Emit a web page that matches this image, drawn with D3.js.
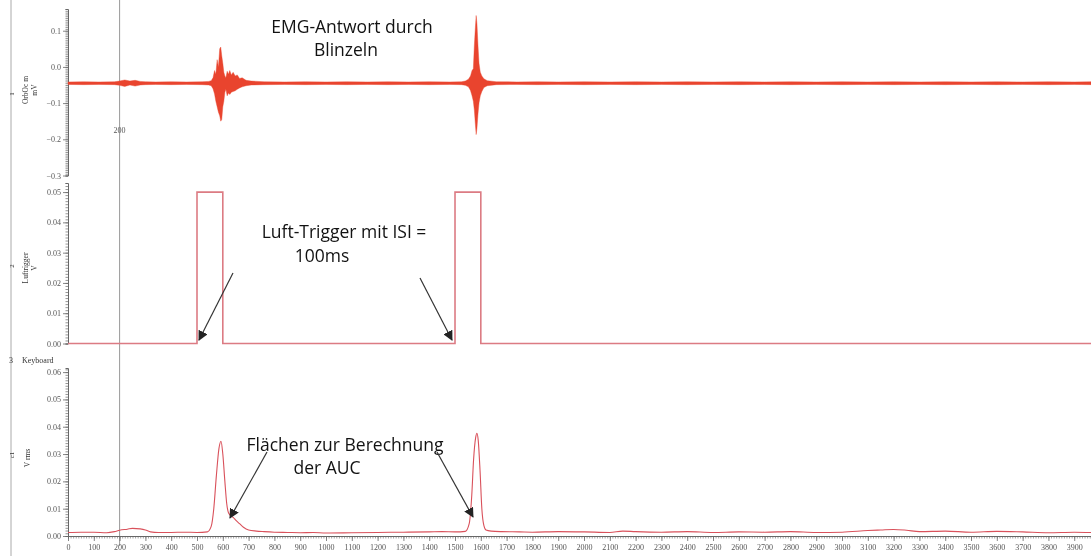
<!DOCTYPE html>
<html>
<head>
<meta charset="utf-8">
<script src="https://cdn.jsdelivr.net/npm/d3@7"></script>
<style>
  html, body { margin: 0; padding: 0; background: #fff; }
  svg { display: block; opacity: 0.995; will-change: opacity; }
</style>
</head>
<body>
<svg id="chart" width="1091" height="556"></svg>
<script>
// ---- Channel 1: EMG envelope (ms, upper and lower edge of the trace, mV)
const emgTime = [0, 60, 120, 180, 200, 220, 240, 260, 280, 300, 340, 400, 460, 520, 545,
  555, 562, 568, 573, 578, 583, 588, 592, 596, 600, 604, 608, 612, 617, 622, 627, 633, 640, 648, 656, 665, 675, 690, 710,
  760, 840, 920, 1000, 1080, 1160, 1240, 1320, 1400, 1480, 1525,
  1540, 1552, 1560, 1566, 1571, 1575, 1579, 1582, 1585, 1589, 1593, 1598, 1604, 1612, 1625,
  1660, 1740, 1820, 1900, 2000, 2100, 2200, 2300, 2400, 2500, 2600, 2700, 2800, 2900, 3000, 3100, 3200, 3300, 3400, 3500, 3600, 3700, 3800, 3900, 3965];
const emgHigh = [-0.0415, -0.041, -0.0415, -0.041, -0.039, -0.036, -0.039, -0.037, -0.040, -0.041, -0.0415, -0.041, -0.0415, -0.041, -0.040,
  -0.038, -0.030, -0.010, -0.020, 0.020, 0.000, 0.050, 0.055, 0.030, 0.010, -0.015, -0.025, -0.030, -0.012, -0.020, -0.010, -0.022, -0.015, -0.025, -0.022, -0.032, -0.030, -0.037, -0.039,
  -0.041, -0.0415, -0.041, -0.0415, -0.041, -0.0415, -0.041, -0.0415, -0.041, -0.0415, -0.041,
  -0.039, -0.034, -0.025, -0.010, -0.005, 0.060, 0.110, 0.142, 0.120, 0.060, 0.010, -0.015, -0.025, -0.033, -0.038,
  -0.041, -0.0415, -0.041, -0.0415, -0.041, -0.0415, -0.041, -0.0415, -0.041, -0.0415, -0.041, -0.0415, -0.041, -0.0415, -0.041, -0.0415, -0.041, -0.0415, -0.041, -0.0415, -0.041, -0.0415, -0.041, -0.0415, -0.041];
const emgLow  = [-0.0485, -0.049, -0.0485, -0.049, -0.051, -0.054, -0.050, -0.053, -0.050, -0.049, -0.0485, -0.049, -0.0485, -0.049, -0.050,
  -0.052, -0.060, -0.075, -0.095, -0.110, -0.125, -0.135, -0.150, -0.145, -0.110, -0.095, -0.070, -0.062, -0.080, -0.072, -0.076, -0.070, -0.068, -0.066, -0.062, -0.058, -0.055, -0.052, -0.050,
  -0.049, -0.0485, -0.049, -0.0485, -0.049, -0.0485, -0.049, -0.0485, -0.049, -0.0485, -0.049,
  -0.051, -0.055, -0.065, -0.080, -0.095, -0.120, -0.160, -0.187, -0.170, -0.130, -0.100, -0.080, -0.068, -0.057, -0.052,
  -0.049, -0.0485, -0.049, -0.0485, -0.049, -0.0485, -0.049, -0.0485, -0.049, -0.0485, -0.049, -0.0485, -0.049, -0.0485, -0.049, -0.0485, -0.049, -0.0485, -0.049, -0.0485, -0.049, -0.0485, -0.049, -0.0485, -0.049];

// ---- Channel 2: air-puff trigger (ms, V)
const trigTime  = [0, 500, 500, 600, 600, 1500, 1500, 1600, 1600, 3965];
const trigValue = [0, 0, 0.05, 0.05, 0, 0, 0.05, 0.05, 0, 0];

// ---- Channel 3: RMS of the EMG (ms, V)
const rmsTime  = [0, 50, 100, 150, 180, 200, 230, 250, 280, 300, 320, 350, 400, 450, 500, 540, 555, 565, 575, 585, 593, 600, 608, 615, 622, 630, 640, 650, 665, 680, 700, 730, 760, 800, 850, 900, 950, 1000, 1100, 1200, 1300, 1400, 1450, 1500, 1540, 1555, 1565, 1572, 1580, 1585, 1590, 1597, 1604, 1612, 1620, 1640, 1680, 1750, 1800, 1900, 2000, 2100, 2150, 2200, 2300, 2400, 2500, 2600, 2700, 2800, 2900, 3000, 3100, 3150, 3200, 3250, 3300, 3400, 3500, 3600, 3700, 3800, 3900, 3965];
const rmsValue = [0.0013, 0.0014, 0.0014, 0.0012, 0.0016, 0.0021, 0.0025, 0.0028, 0.0026, 0.0022, 0.0015, 0.0013, 0.0013, 0.0014, 0.0013, 0.0015, 0.0035, 0.010, 0.022, 0.032, 0.0347, 0.030, 0.020, 0.012, 0.0085, 0.0075, 0.0068, 0.0058, 0.0045, 0.0032, 0.0022, 0.0018, 0.0016, 0.0014, 0.0013, 0.0012, 0.0013, 0.0011, 0.0012, 0.0013, 0.0014, 0.0015, 0.0016, 0.0015, 0.0017, 0.0045, 0.015, 0.028, 0.036, 0.0376, 0.035, 0.024, 0.010, 0.0038, 0.0022, 0.0018, 0.0016, 0.0015, 0.0014, 0.0016, 0.0015, 0.0013, 0.0018, 0.0016, 0.0014, 0.0016, 0.0013, 0.0015, 0.0014, 0.0016, 0.0013, 0.0014, 0.0020, 0.0022, 0.0024, 0.0021, 0.0016, 0.0018, 0.0014, 0.0017, 0.0015, 0.0012, 0.0014, 0.0013];

// ---- Tick labels
const xTicks     = d3.range(0, 4000, 100);
const emgTicks   = [0.1, 0.0, -0.1, -0.2, -0.3];
const trigTicks  = [0.00, 0.01, 0.02, 0.03, 0.04, 0.05];
const rmsTicks   = [0.00, 0.01, 0.02, 0.03, 0.04, 0.05, 0.06];

const svg = d3.select("#chart");
const W = 1091, H = 556;

const x = d3.scaleLinear().domain([0, 3965]).range([68, 1091]);
const yEmg  = d3.scaleLinear().domain([-0.3, 0.16]).range([175.5, 9]);
const yTrig = d3.scaleLinear().domain([0, 0.053]).range([343.5, 183]);
const yRms  = d3.scaleLinear().domain([0, 0.0615]).range([536, 368]);

const axisColor = "#666";
const labelColor = "#555";
const tickFont = "Liberation Serif, DejaVu Serif, serif";

// guide lines: channel label column and the 200 ms cursor
svg.append("line").attr("x1", 11).attr("x2", 11).attr("y1", 0).attr("y2", H)
  .attr("stroke", "#aaa").attr("stroke-width", 1);
svg.append("line").attr("x1", x(200)).attr("x2", x(200)).attr("y1", 0).attr("y2", 546)
  .attr("stroke", "#999").attr("stroke-width", 1);
svg.append("text").attr("x", x(200)).attr("y", 133).attr("text-anchor", "middle")
  .attr("font-family", tickFont).attr("font-size", 8).attr("fill", labelColor).text("200");

// y axes with dense minor ticks
function yAxis(scale, major, minorStep, fmt) {
  const [d0, d1] = scale.domain();
  const minor = d3.range(Math.ceil(d0 / minorStep - 1e-9), Math.floor(d1 / minorStep + 1e-9) + 1).map(i => i * minorStep);
  const g = svg.append("g").attr("transform", `translate(${x(0)},0)`);
  g.call(d3.axisLeft(scale).tickValues(minor).tickSize(2.5).tickFormat(""))
    .call(s => s.selectAll("line").attr("stroke", axisColor).attr("stroke-width", 0.7))
    .call(s => s.select(".domain").attr("stroke", axisColor).attr("stroke-width", 1));
  const g2 = svg.append("g").attr("transform", `translate(${x(0)},0)`);
  g2.call(d3.axisLeft(scale).tickValues(major).tickSize(5).tickPadding(2).tickFormat(fmt))
    .call(s => s.select(".domain").remove())
    .call(s => s.selectAll("line").attr("stroke", axisColor).attr("stroke-width", 0.8))
    .call(s => s.selectAll("text").attr("font-family", tickFont).attr("font-size", 8).attr("fill", labelColor));
}
yAxis(yEmg, emgTicks, 0.005, d3.format(".1f"));
yAxis(yTrig, trigTicks, 0.001, d3.format(".2f"));
yAxis(yRms, rmsTicks, 0.001, d3.format(".2f"));

// x axis at the bottom of channel 3
const xMinor = d3.range(0, 3966, 10);
svg.append("g").attr("transform", `translate(0,${yRms(0)})`)
  .call(d3.axisBottom(x).tickValues(xMinor).tickSize(2.5).tickFormat(""))
  .call(s => s.selectAll("line").attr("stroke", axisColor).attr("stroke-width", 0.6))
  .call(s => s.select(".domain").attr("stroke", axisColor).attr("stroke-width", 1));
svg.append("g").attr("transform", `translate(0,${yRms(0)})`)
  .call(d3.axisBottom(x).tickValues(xTicks).tickSize(5).tickPadding(3).tickFormat(d3.format("d")))
  .call(s => s.select(".domain").remove())
  .call(s => s.selectAll("line").attr("stroke", axisColor).attr("stroke-width", 0.8))
  .call(s => s.selectAll("text").attr("font-family", tickFont).attr("font-size", 8).attr("fill", labelColor));

// channel labels
function rotLabel(lines, cx, cy) {
  const t = svg.append("text").attr("transform", `translate(${cx},${cy}) rotate(-90)`)
    .attr("text-anchor", "middle").attr("font-family", tickFont).attr("font-size", 7.5).attr("fill", "#333");
  lines.forEach((l, i) => t.append("tspan").attr("x", 0).attr("dy", i === 0 ? 0 : 8.5).text(l));
}
rotLabel(["OrbOc m", "mV"], 28, 90);
rotLabel(["Luftrigger", "V"], 28, 268);
rotLabel(["V rms"], 30, 458);
function smallLabel(txt, cx, cy) {
  svg.append("text").attr("transform", `translate(${cx},${cy}) rotate(-90)`)
    .attr("text-anchor", "middle").attr("font-family", tickFont).attr("font-size", 7).attr("fill", "#333").text(txt);
}
smallLabel("1", 14, 94);
smallLabel("2", 14, 266);
smallLabel("c1", 14, 455);
svg.append("text").attr("x", 9).attr("y", 363).attr("font-family", tickFont)
  .attr("font-size", 8).attr("fill", "#333").text("3");
svg.append("text").attr("x", 22).attr("y", 363).attr("font-family", tickFont)
  .attr("font-size", 8).attr("fill", "#333").text("Keyboard");

// channel 1 trace as a filled envelope
const emgData = emgTime.map((t, i) => ({ t, hi: emgHigh[i], lo: emgLow[i] }));
svg.append("path").datum(emgData)
  .attr("d", d3.area().x(d => x(d.t)).y0(d => yEmg(d.lo)).y1(d => yEmg(d.hi)).curve(d3.curveLinear))
  .attr("fill", "#e9432d").attr("stroke", "#e9432d").attr("stroke-width", 0.4);

// channel 2 trigger steps
const trigData = trigTime.map((t, i) => ({ t, v: trigValue[i] }));
svg.append("path").datum(trigData)
  .attr("d", d3.line().x(d => x(d.t)).y(d => yTrig(d.v)))
  .attr("fill", "none").attr("stroke", "#dc7a83").attr("stroke-width", 1.6);

// channel 3 RMS curve
const rmsData = rmsTime.map((t, i) => ({ t, v: rmsValue[i] }));
svg.append("path").datum(rmsData)
  .attr("d", d3.line().x(d => x(d.t)).y(d => yRms(d.v)).curve(d3.curveMonotoneX))
  .attr("fill", "none").attr("stroke", "#d9505a").attr("stroke-width", 1.1);

// annotations
const noteFont = "Open Sans, Noto Sans, sans-serif";
function note(txt, cx, y) {
  svg.append("text").attr("x", cx).attr("y", y)
    .attr("text-anchor", "middle").attr("font-family", noteFont).attr("font-size", 17.5)
    .attr("fill", "#111").text(txt);
}
note("EMG-Antwort durch", 352, 33);
note("Blinzeln", 346, 56);
note("Luft-Trigger mit ISI =", 344, 238);
note("100ms", 322, 262);
note("Flächen zur Berechnung", 345, 451);
note("der AUC", 327, 474);

svg.append("defs").append("marker").attr("id", "head")
  .attr("viewBox", "0 0 10 10").attr("refX", 9).attr("refY", 5)
  .attr("markerWidth", 10).attr("markerHeight", 10).attr("markerUnits", "userSpaceOnUse")
  .attr("orient", "auto")
  .append("path").attr("d", "M0,0 L10,5 L0,10 Z").attr("fill", "#222");
const arrows = [
  [233, 273, 199, 340],
  [420, 278, 452, 340],
  [267, 452, 230, 518],
  [437, 452, 473, 517]
];
svg.selectAll(".arrow").data(arrows).enter().append("line")
  .attr("x1", d => d[0]).attr("y1", d => d[1]).attr("x2", d => d[2]).attr("y2", d => d[3])
  .attr("stroke", "#333").attr("stroke-width", 1.2).attr("marker-end", "url(#head)");
</script>
</body>
</html>
